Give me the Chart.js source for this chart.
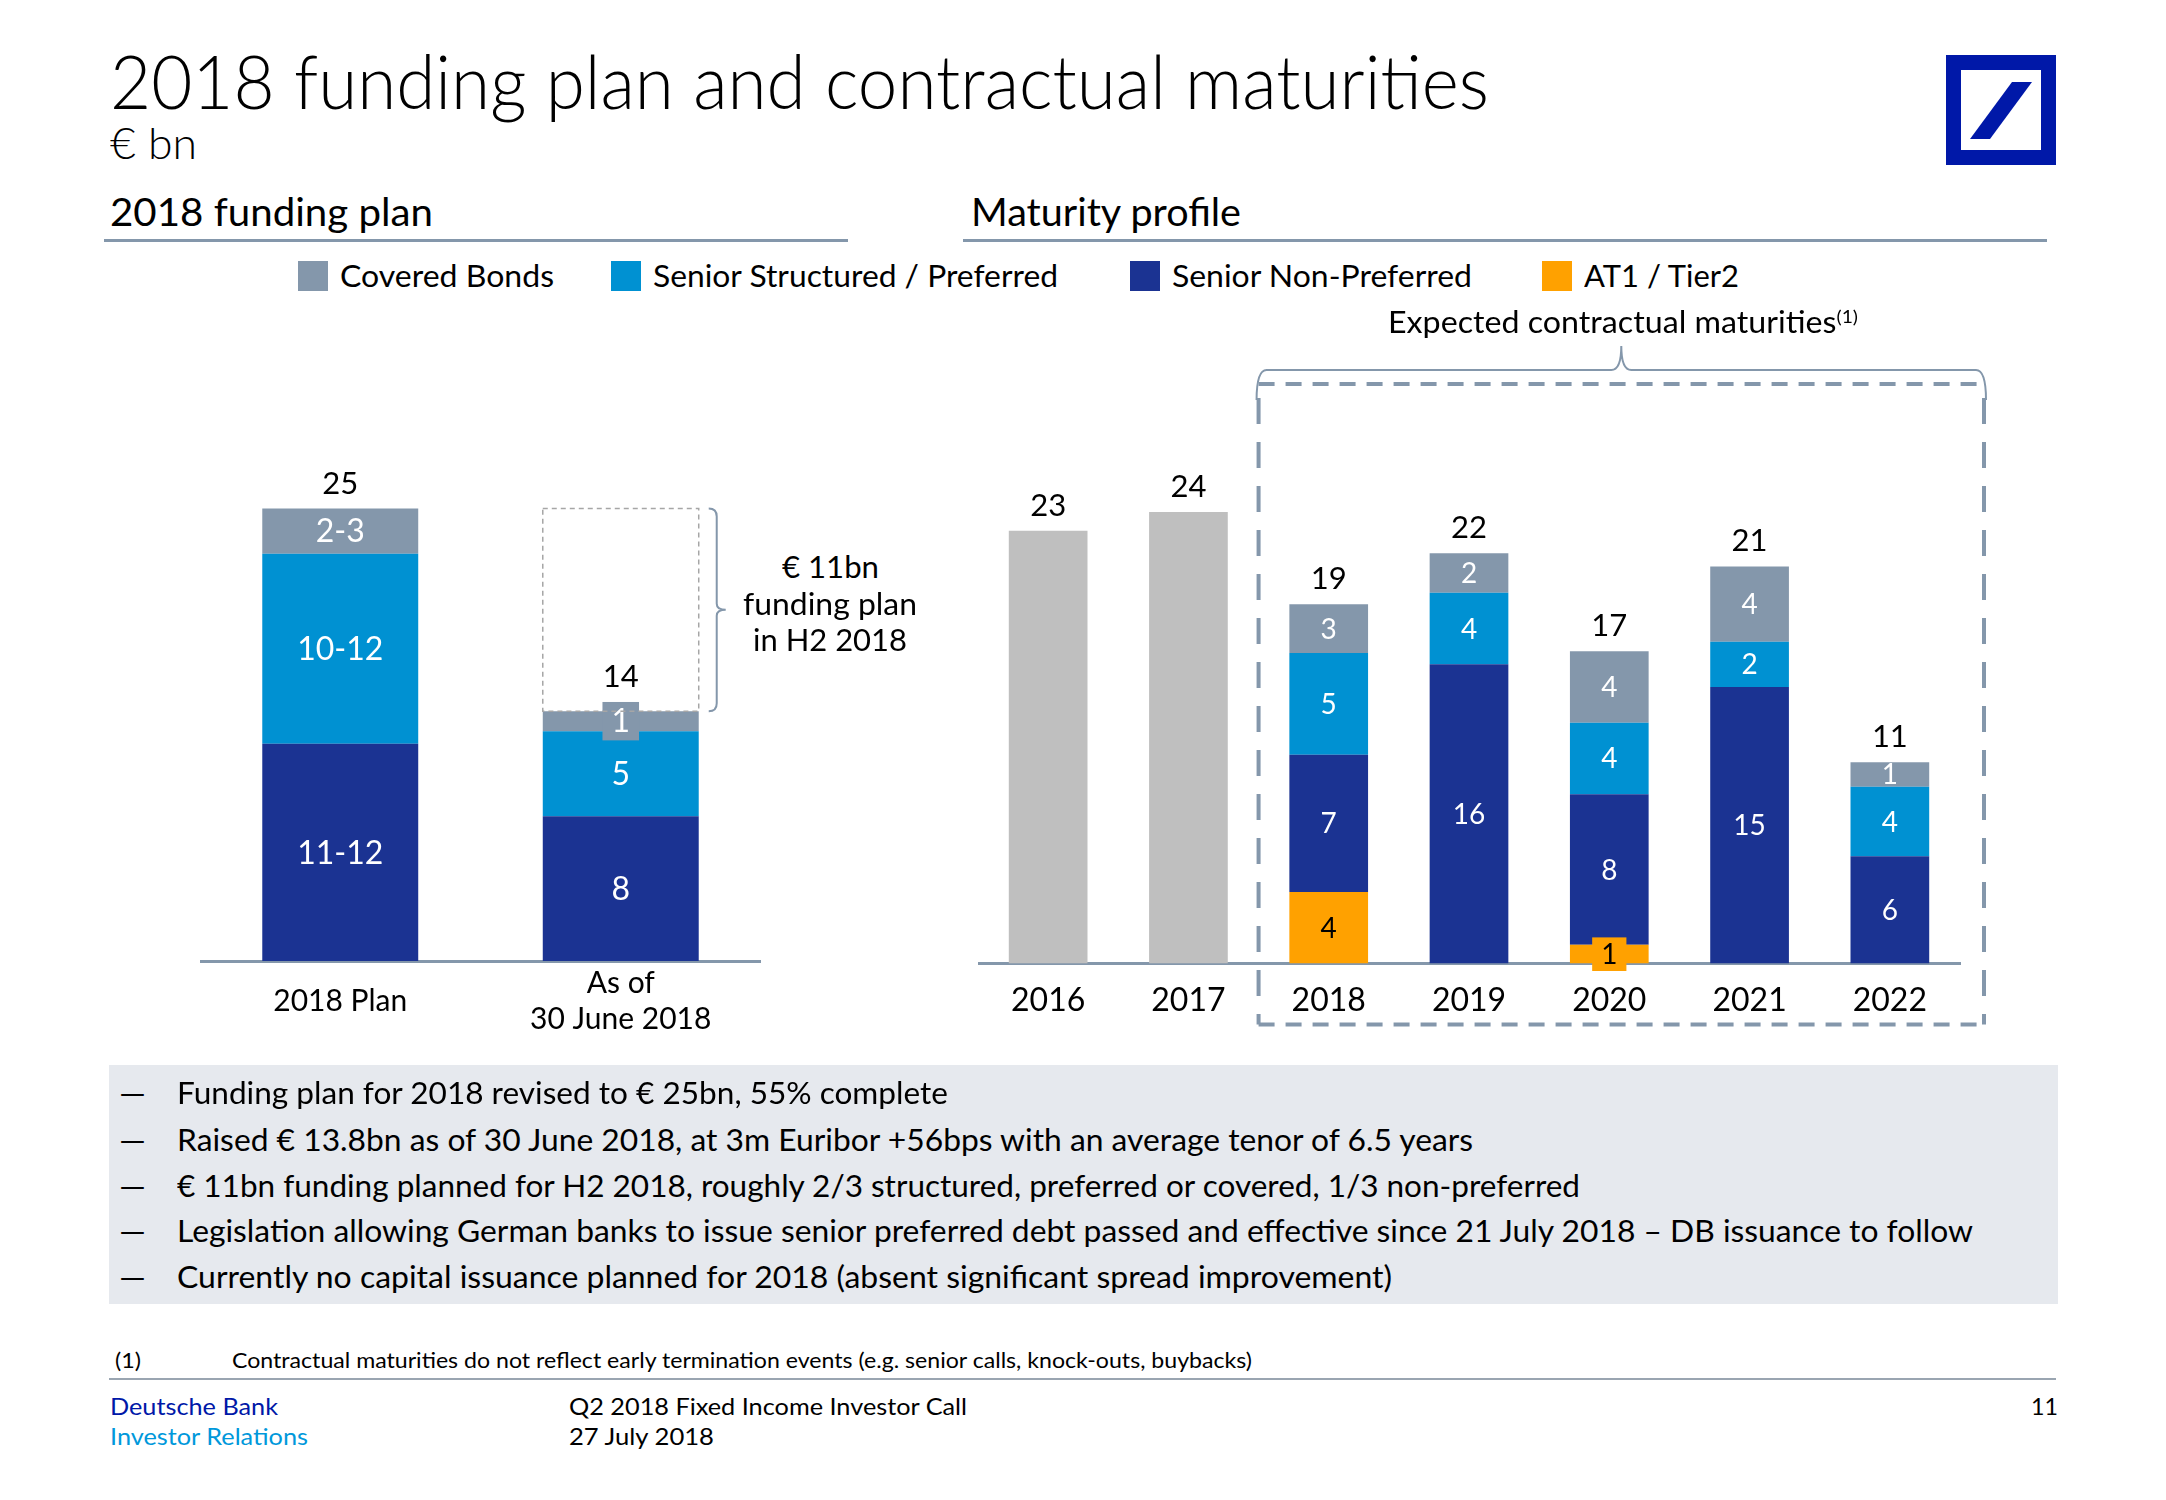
<!DOCTYPE html>
<html>
<head>
<meta charset="utf-8">
<script src="https://cdn.jsdelivr.net/npm/chart.js@4.4.0/dist/chart.umd.min.js"></script>
<style>
  body { margin: 0; width: 2166px; height: 1500px; background: #fff; position: relative; overflow: hidden;
         font-family: Lato, "Open Sans", "DejaVu Sans", sans-serif; color: #000; }
  .t { position: absolute; white-space: nowrap; line-height: 1.2; transform-origin: 0 0; }
  .rule { position: absolute; background: #8497ab; }
  .sq { position: absolute; width: 30px; height: 30px; }
  canvas { position: absolute; }
  sup { font-size: 60%; vertical-align: 0.55em; line-height: 0; }
</style>
</head>
<body>

<svg style="position:absolute;left:1946px;top:55px" width="110" height="110" viewBox="0 0 110 110">
  <rect x="7.5" y="7.5" width="95" height="95" fill="none" stroke="#0018a8" stroke-width="15"/>
  <polygon points="66,27 86,27 44,84 24,84" fill="#0018a8"/>
</svg>

<div class="rule" style="left:104px;top:239px;width:744px;height:3px"></div>
<div class="rule" style="left:963px;top:239px;width:1084px;height:3px"></div>
<div style="position:absolute;left:109px;top:1065px;width:1949px;height:239px;background:#e6e9ee"></div>
<div style="position:absolute;left:109px;top:1378px;width:1947px;height:2px;background:#9aa5b1"></div>

<canvas id="planChart" width="561" height="659" style="left:200px;top:418px"></canvas>
<canvas id="maturityChart" width="1022" height="738" style="left:978px;top:330px"></canvas>

<script>
// ---- 2018 funding plan (€ bn) ----
const planCategories = [['2018 Plan'], ['As of', '30 June 2018']];
const planNonPreferred = [12, 8];
const planStructured = [10.5, 4.7];
const planCovered = [2.5, 1.1];
const planOpen = [null, 11.2];           // remaining H2 2018 funding, drawn as dashed outline
const planNonPreferredLabels = ['11-12', '8'];
const planStructuredLabels = ['10-12', '5'];
const planCoveredLabels = ['2-3', '1'];
const planTotals = ['25', '14'];

// ---- Maturity profile (€ bn) ----
const maturityYears = ['2016', '2017', '2018', '2019', '2020', '2021', '2022'];
const maturityPast = [23, 24, null, null, null, null, null];
const maturityAT1 = [null, null, 3.8, null, 1.0, null, null];
const maturityNonPreferred = [null, null, 7.3, 15.9, 8.0, 14.7, 5.7];
const maturityStructured = [null, null, 5.4, 3.8, 3.8, 2.4, 3.7];
const maturityCovered = [null, null, 2.6, 2.1, 3.8, 4.0, 1.3];
const maturityAT1Labels = ['', '', '4', '', '1', '', ''];
const maturityNonPreferredLabels = ['', '', '7', '16', '8', '15', '6'];
const maturityStructuredLabels = ['', '', '5', '4', '4', '2', '4'];
const maturityCoveredLabels = ['', '', '3', '2', '4', '4', '1'];
const maturityTotals = ['23', '24', '19', '22', '17', '21', '11'];

const legendLabels = ['Covered Bonds', 'Senior Structured / Preferred', 'Senior Non-Preferred', 'AT1 / Tier2'];

const bullets = [
  'Funding plan for 2018 revised to € 25bn, 55% complete',
  'Raised € 13.8bn as of 30 June 2018, at 3m Euribor +56bps with an average tenor of 6.5 years',
  '€ 11bn funding planned for H2 2018, roughly 2/3 structured, preferred or covered, 1/3 non-preferred',
  'Legislation allowing German banks to issue senior preferred debt passed and effective since 21 July 2018 – DB issuance to follow',
  'Currently no capital issuance planned for 2018 (absent significant spread improvement)'
];

const COLORS = {
  covered: '#8497ab',
  structured: '#0091d2',
  nonPreferred: '#1b3392',
  at1: '#ffa100',
  past: '#bfbfbf',
  rule: '#8497ab'
};
const FONT = 'Lato, "Open Sans", "DejaVu Sans", sans-serif';

// text helper: y is the visual middle, w is the width to fit
function addText(html, x, y, size, o = {}) {
  const el = document.createElement('div');
  el.className = 't';
  el.innerHTML = html;
  el.style.fontSize = size + 'px';
  if (o.weight) el.style.fontWeight = o.weight;
  if (o.color) el.style.color = o.color;
  document.body.appendChild(el);
  const r = el.getBoundingClientRect();
  const s = o.w ? o.w / r.width : 1;
  const w = r.width * s;
  let left = x;
  if (o.align === 'center') left = x - w / 2;
  if (o.align === 'right') left = x - w;
  el.style.left = left + 'px';
  el.style.top = (y - r.height * 0.55) + 'px';
  el.style.transform = 'scaleX(' + s + ')';
  return el;
}

// white (or dark) value labels inside the segments, totals on top
const segmentLabels = {
  id: 'segmentLabels',
  afterDatasetsDraw(chart, args, opts) {
    const ctx = chart.ctx;
    ctx.save();
    ctx.textAlign = 'center';
    ctx.textBaseline = 'middle';
    chart.data.labels.forEach((lab, i) => {
      let top = Infinity, x = null;
      chart.data.datasets.forEach((ds, di) => {
        const el = chart.getDatasetMeta(di).data[i];
        if (ds.data[i] == null || !el) return;
        x = el.x;
        if (!ds.outline) top = Math.min(top, el.y);
        const txt = ds.segLabels && ds.segLabels[i];
        if (!txt) return;
        ctx.font = opts.size + 'px ' + FONT;
        const cy = (el.y + el.base) / 2;
        const h = Math.abs(el.base - el.y);
        const tw = ctx.measureText(txt).width;
        const bh = opts.size * 1.2;
        if (h < opts.size * 0.8) {
          ctx.fillStyle = ds.backgroundColor;
          ctx.fillRect(el.x - tw / 2 - 9, cy - bh / 2, tw + 18, bh);
          top = Math.min(top, cy - bh / 2);
        }
        ctx.fillStyle = ds.labelColor || '#fff';
        ctx.fillText(txt, el.x, cy + 1);
      });
      const total = opts.totals[i];
      if (total && x != null) {
        ctx.font = opts.totalSize + 'px ' + FONT;
        ctx.fillStyle = '#000';
        ctx.fillText(total, x, top - opts.offset);
      }
    });
    ctx.restore();
  }
};

// dashed outline + brace for the open part of the plan
const planOutline = {
  id: 'planOutline',
  afterDatasetsDraw(chart) {
    const ctx = chart.ctx;
    chart.data.datasets.forEach((ds, di) => {
      if (!ds.outline) return;
      chart.getDatasetMeta(di).data.forEach((el, i) => {
        if (ds.data[i] == null) return;
        const l = el.x - el.width / 2, r = el.x + el.width / 2, t = el.y, b = el.base;
        ctx.save();
        ctx.setLineDash([5, 4]);
        ctx.strokeStyle = '#a6a6a6';
        ctx.lineWidth = 1.5;
        ctx.strokeRect(l, t, r - l, b - t);
        const bx = r + 18, mid = (t + b) / 2;
        ctx.setLineDash([]);
        ctx.strokeStyle = COLORS.rule;
        ctx.lineWidth = 2;
        ctx.beginPath();
        ctx.moveTo(bx - 8, t);
        ctx.quadraticCurveTo(bx, t, bx, t + 8);
        ctx.lineTo(bx, mid - 6);
        ctx.quadraticCurveTo(bx, mid, bx + 9, mid);
        ctx.quadraticCurveTo(bx, mid, bx, mid + 6);
        ctx.lineTo(bx, b - 8);
        ctx.quadraticCurveTo(bx, b, bx - 8, b);
        ctx.stroke();
        ctx.restore();
      });
    });
  }
};

// dashed frame and brace around the expected maturities
const maturityFrame = {
  id: 'maturityFrame',
  afterDatasetsDraw(chart) {
    const { ctx, chartArea: a, scales: { x } } = chart;
    const l = x.getPixelForValue(1.5), r = a.right + 24, t = a.top - 15, b = a.bottom + 61;
    ctx.save();
    ctx.strokeStyle = COLORS.rule;
    ctx.lineWidth = 4;
    ctx.setLineDash([16, 11]);
    ctx.beginPath();
    ctx.moveTo(l, t); ctx.lineTo(r, t);
    ctx.moveTo(l, b); ctx.lineTo(r, b);
    ctx.stroke();
    ctx.setLineDash([26, 18]);
    ctx.beginPath();
    ctx.moveTo(l, t + 14); ctx.lineTo(l, b);
    ctx.moveTo(r, t + 14); ctx.lineTo(r, b);
    ctx.stroke();
    const by = t - 14, cx = (l + r) / 2;
    ctx.setLineDash([]);
    ctx.lineWidth = 2;
    ctx.beginPath();
    ctx.moveTo(l - 2, t + 16);
    ctx.quadraticCurveTo(l - 2, by, l + 8, by);
    ctx.lineTo(cx - 10, by);
    ctx.quadraticCurveTo(cx, by, cx, by - 24);
    ctx.quadraticCurveTo(cx, by, cx + 10, by);
    ctx.lineTo(r - 8, by);
    ctx.quadraticCurveTo(r + 2, by, r + 2, t + 16);
    ctx.stroke();
    ctx.restore();
  }
};

function drawCharts() {
  Chart.defaults.font.family = FONT;
  Chart.defaults.color = '#000';

  new Chart(document.getElementById('planChart'), {
    type: 'bar',
    data: {
      labels: planCategories,
      datasets: [
        { data: planNonPreferred, backgroundColor: COLORS.nonPreferred, segLabels: planNonPreferredLabels },
        { data: planStructured, backgroundColor: COLORS.structured, segLabels: planStructuredLabels },
        { data: planCovered, backgroundColor: COLORS.covered, segLabels: planCoveredLabels },
        { data: planOpen, backgroundColor: 'rgba(0,0,0,0)', outline: true }
      ]
    },
    options: {
      responsive: false,
      animation: false,
      layout: { padding: 0 },
      datasets: { bar: { barPercentage: 1, categoryPercentage: 0.556, borderWidth: 0 } },
      scales: {
        x: {
          stacked: true,
          grid: { display: false, drawTicks: false },
          border: { display: true, color: COLORS.rule, width: 3 },
          ticks: { font: { size: 30 }, color: '#000', padding: 22, crossAlign: 'center', maxRotation: 0 }
        },
        y: { stacked: true, display: false, min: 0, max: 30 }
      },
      plugins: {
        legend: { display: false },
        tooltip: { enabled: false },
        segmentLabels: { size: 32, totalSize: 31, offset: 25, totals: planTotals }
      }
    },
    plugins: [segmentLabels, planOutline]
  });

  new Chart(document.getElementById('maturityChart'), {
    type: 'bar',
    data: {
      labels: maturityYears,
      datasets: [
        { data: maturityPast, backgroundColor: COLORS.past },
        { data: maturityAT1, backgroundColor: COLORS.at1, segLabels: maturityAT1Labels, labelColor: '#000' },
        { data: maturityNonPreferred, backgroundColor: COLORS.nonPreferred, segLabels: maturityNonPreferredLabels },
        { data: maturityStructured, backgroundColor: COLORS.structured, segLabels: maturityStructuredLabels },
        { data: maturityCovered, backgroundColor: COLORS.covered, segLabels: maturityCoveredLabels }
      ]
    },
    options: {
      responsive: false,
      animation: false,
      layout: { padding: { top: 69, right: 40, bottom: 30, left: 0 } },
      datasets: { bar: { barPercentage: 1, categoryPercentage: 0.561, borderWidth: 0 } },
      scales: {
        x: {
          stacked: true,
          grid: { display: false, drawTicks: false },
          border: { display: true, color: COLORS.rule, width: 3 },
          ticks: { font: { size: 32 }, color: '#000', padding: 18, maxRotation: 0 }
        },
        y: { stacked: true, display: false, min: 0, max: 30 }
      },
      plugins: {
        legend: { display: false },
        tooltip: { enabled: false },
        segmentLabels: { size: 28, totalSize: 31, offset: 25, totals: maturityTotals }
      }
    },
    plugins: [segmentLabels, maturityFrame]
  });
}

function drawTexts() {
  addText('2018 funding plan and contractual maturities', 110, 86, 74, { weight: 300, w: 1379 });
  addText('€ bn', 110, 145, 44, { weight: 300, w: 87 });
  addText('2018 funding plan', 110, 214, 38, { w: 323 });
  addText('Maturity profile', 971, 214, 38, { w: 270 });

  // legend
  const legendColors = [COLORS.covered, COLORS.structured, COLORS.nonPreferred, COLORS.at1];
  const legendSquareX = [298, 611, 1130, 1542];
  const legendTextW = [214, 405, 300, 155];
  legendLabels.forEach((lab, i) => {
    const sq = document.createElement('div');
    sq.className = 'sq';
    sq.style.left = legendSquareX[i] + 'px';
    sq.style.top = '261px';
    sq.style.background = legendColors[i];
    document.body.appendChild(sq);
    addText(lab, legendSquareX[i] + 42, 277, 31, { w: legendTextW[i] });
  });

  addText('Expected contractual maturities<sup>(1)</sup>', 1623, 323, 30, { align: 'center', w: 470 });

  addText('€ 11bn', 830, 568, 31, { align: 'center', w: 97 });
  addText('funding plan', 830, 605, 31, { align: 'center', w: 174 });
  addText('in H2 2018', 830, 641, 31, { align: 'center', w: 154 });

  const bulletY = [1094, 1141, 1187, 1232, 1278];
  const bulletW = [771, 1296, 1403, 1796, 1215];
  bullets.forEach((b, i) => {
    addText('—', 119, bulletY[i], 31, { w: 27 });
    addText(b, 177, bulletY[i], 31, { w: bulletW[i] });
  });

  addText('(1)', 115, 1362, 22, { w: 26 });
  addText('Contractual maturities do not reflect early termination events (e.g. senior calls, knock-outs, buybacks)', 232, 1362, 22, { w: 1020 });

  addText('Deutsche Bank', 110, 1408, 23, { w: 168, color: '#0018a8' });
  addText('Investor Relations', 110, 1438, 23, { w: 198, color: '#0098db' });
  addText('Q2 2018 Fixed Income Investor Call', 569, 1408, 23, { w: 398 });
  addText('27 July 2018', 569, 1438, 23, { w: 145 });
  addText('11', 2058, 1408, 23, { align: 'right', w: 27 });
}

drawTexts();
drawCharts();
</script>
</body>
</html>
